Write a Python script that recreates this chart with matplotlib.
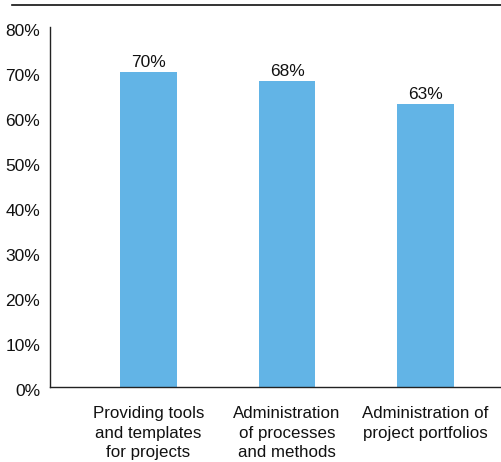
import matplotlib
matplotlib.use("Agg")
import matplotlib.pyplot as plt
import matplotlib.transforms as mtransforms
from matplotlib.lines import Line2D

categories = ["Providing tools\nand templates\nfor projects",
              "Administration\nof processes\nand methods",
              "Administration of\nproject portfolios"]
values = [70, 68, 63]
yticks = [0, 10, 20, 30, 40, 50, 60, 70, 80]

plt.rcParams['font.family'] = ['Liberation Sans', 'DejaVu Sans']
FS = 12.5

fig = plt.figure(figsize=(5.02, 4.62), dpi=100)
ax = fig.add_axes([50/502, 75/462, 452/502, 360/462])

x = list(range(len(categories)))
ax.bar(x, values, width=0.41, color="#62B4E6")
for xi, v in zip(x, values):
    ax.text(xi, v + 0.4, f"{v}%", ha="center", va="bottom", fontsize=FS, color="#111111")

ax.set_xlim(-0.711, 2.552)
ax.set_ylim(0, 80)
ax.set_yticks(yticks)
ax.set_yticklabels([f"{t}%" for t in yticks], fontsize=FS)
ax.set_xticks(x)
ax.set_xticklabels(categories, fontsize=12.2, linespacing=1.37)
ax.tick_params(axis="both", length=0, colors="#111111")
ax.tick_params(axis="y", pad=7)
ax.tick_params(axis="x", pad=14)

# nudge y tick labels slightly below their tick positions
shift = mtransforms.ScaledTranslation(0, -3/100, fig.dpi_scale_trans)
for lbl in ax.get_yticklabels():
    lbl.set_transform(lbl.get_transform() + shift)

for s in ["top", "right"]:
    ax.spines[s].set_visible(False)
for s in ["left", "bottom"]:
    ax.spines[s].set_linewidth(1.0)
    ax.spines[s].set_color("#222222")

fig.add_artist(Line2D([12/502, 1.0], [1 - 5/462, 1 - 5/462], transform=fig.transFigure,
                      color="#111111", linewidth=1.2))

fig.savefig("out.png", dpi=100)
